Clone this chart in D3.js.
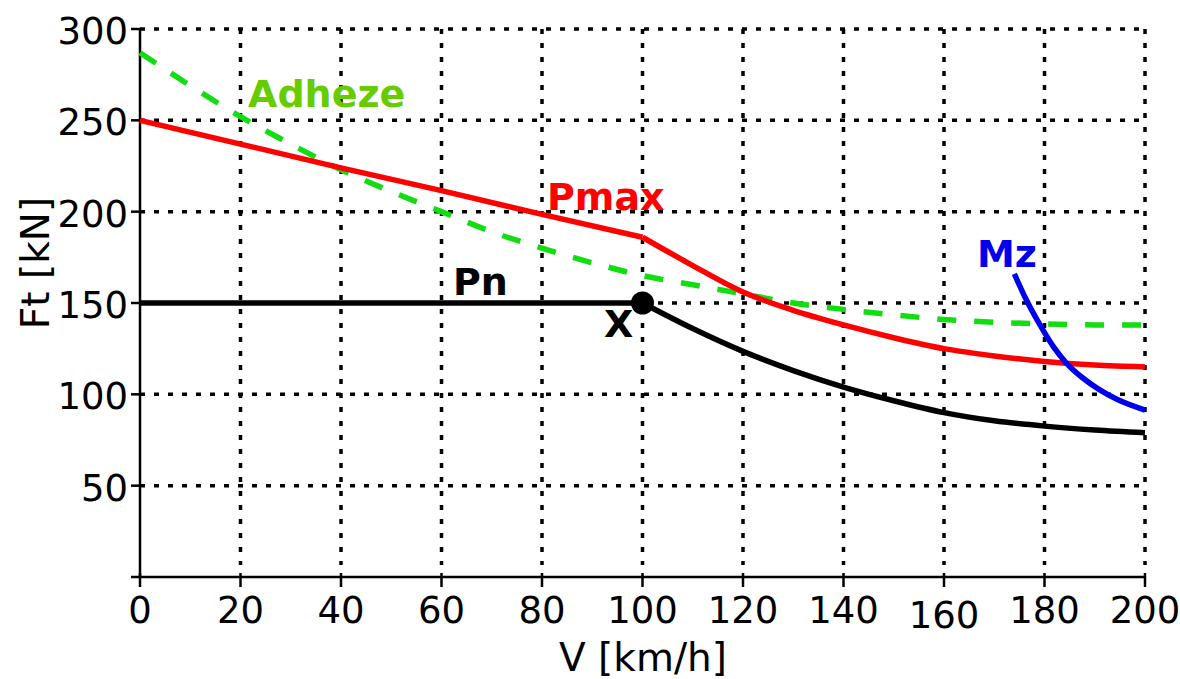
<!DOCTYPE html>
<html>
<head>
<meta charset="utf-8">
<script src="https://cdn.jsdelivr.net/npm/d3@7"></script>
<style>
  html, body { margin: 0; padding: 0; background: #fff; }
  svg { display: block; font-family: "DejaVu Sans", Verdana, sans-serif; }
</style>
</head>
<body>
<svg id="chart" width="1180" height="679"></svg>
<script>
// ---- data ----
const xTicks = [0, 20, 40, 60, 80, 100, 120, 140, 160, 180, 200];
const yTicks = [50, 100, 150, 200, 250, 300];

const adhezeV = [0, 10, 20, 30, 40, 50, 60, 70, 80, 90, 100, 110, 120, 130, 140, 150, 160, 170, 180, 190, 200];
const adhezeF = [287, 269, 252, 237, 223, 211, 200, 189, 180, 172, 165, 160, 155, 150, 146.5, 143.5, 141, 139.5, 138.5, 138, 138];

const pmaxV = [0, 20, 40, 60, 80, 100, 110, 120, 130, 140, 150, 160, 170, 180, 190, 200];
const pmaxF = [250, 237, 224, 211.5, 198.5, 186, 170.5, 156, 146, 138, 131, 125, 121, 118, 116, 115];

const pnV = [0, 20, 40, 60, 80, 100, 110, 120, 130, 140, 150, 160, 170, 180, 190, 200];
const pnF = [150, 150, 150, 150, 150, 150, 136, 123.5, 113, 104, 96.5, 90, 85.5, 82.6, 80.5, 79];

const mzV = [174, 176.4, 179.1, 181.8, 184.4, 187.7, 191, 194.4, 200];
const mzF = [166, 151.6, 138, 126, 117, 108.8, 102.4, 97.3, 91.4];

const pointX = { v: 100, f: 150 };

// ---- setup ----
const svg = d3.select("#chart");
const x = d3.scaleLinear().domain([0, 200]).range([140, 1145]);
const y = d3.scaleLinear().domain([0, 300]).range([577, 29]);

const zip = (vs, fs) => vs.map((v, i) => ({ v, f: fs[i] }));

// grid
const grid = svg.append("g");
grid.selectAll("line.h").data(yTicks).join("line")
  .attr("x1", x(0)).attr("x2", x(200))
  .attr("y1", d => y(d)).attr("y2", d => y(d))
  .attr("stroke", "#000").attr("stroke-width", 3.5)
  .attr("stroke-dasharray", "5,9");
grid.selectAll("line.v").data(xTicks.filter(d => d > 0)).join("line")
  .attr("x1", d => x(d)).attr("x2", d => x(d))
  .attr("y1", y(300)).attr("y2", y(0) - 12)
  .attr("stroke", "#000").attr("stroke-width", 3.5)
  .attr("stroke-dasharray", "5,9");

// axes
const ax = svg.append("g").attr("stroke", "#000").attr("stroke-width", 2.5);
ax.append("line").attr("x1", x(0)).attr("x2", x(0)).attr("y1", y(300)).attr("y2", y(0));
ax.append("line").attr("x1", x(0) - 9).attr("x2", x(200)).attr("y1", y(0)).attr("y2", y(0));
ax.selectAll("line.yt").data(yTicks).join("line")
  .attr("x1", x(0) - 9).attr("x2", x(0))
  .attr("y1", d => y(d)).attr("y2", d => y(d));
ax.selectAll("line.xt").data(xTicks).join("line")
  .attr("x1", d => x(d)).attr("x2", d => x(d))
  .attr("y1", y(0) - 4).attr("y2", y(0) + 10);

// tick labels
svg.append("g").selectAll("text").data(yTicks).join("text")
  .attr("x", x(0) - 12).attr("y", d => y(d) + 15)
  .attr("text-anchor", "end").attr("font-size", 37).attr("fill", "#000")
  .text(d => d);
svg.append("g").selectAll("text").data(xTicks).join("text")
  .attr("x", d => x(d)).attr("y", d => y(0) + 46 + (d === 160 ? 5 : 0))
  .attr("text-anchor", "middle").attr("font-size", 37).attr("fill", "#000")
  .text(d => d);

// axis titles
svg.append("text").attr("transform", "translate(49,263) rotate(-90)")
  .attr("text-anchor", "middle").attr("font-size", 39).attr("fill", "#000")
  .text("Ft [kN]");
svg.append("text").attr("x", 643).attr("y", 671)
  .attr("text-anchor", "middle").attr("font-size", 39).attr("fill", "#000")
  .text("V [km/h]");

// lines
const lineLin = d3.line().x(d => x(d.v)).y(d => y(d.f)).curve(d3.curveLinear);
const lineSmooth = d3.line().x(d => x(d.v)).y(d => y(d.f)).curve(d3.curveMonotoneX);

const adheze = zip(adhezeV, adhezeF);
svg.append("path").attr("d", lineSmooth(adheze))
  .attr("fill", "none").attr("stroke", "#11dd11").attr("stroke-width", 5.5)
  .attr("stroke-dasharray", "19,18");

function kinked(data, color) {
  const a = data.filter(d => d.v <= 100);
  const b = data.filter(d => d.v >= 100);
  svg.append("path").attr("d", lineLin(a))
    .attr("fill", "none").attr("stroke", color).attr("stroke-width", 5.5)
    .attr("stroke-linejoin", "round");
  svg.append("path").attr("d", lineSmooth(b))
    .attr("fill", "none").attr("stroke", color).attr("stroke-width", 5.5)
    .attr("stroke-linejoin", "round");
}
kinked(zip(pmaxV, pmaxF), "#ff0000");
kinked(zip(pnV, pnF), "#000000");

svg.append("path").attr("d", lineSmooth(zip(mzV, mzF)))
  .attr("fill", "none").attr("stroke", "#0000ee").attr("stroke-width", 5.5);

svg.append("circle").attr("cx", x(pointX.v)).attr("cy", y(pointX.f)).attr("r", 11.5).attr("fill", "#000");

// labels
const lab = (t, xx, yy, c) => svg.append("text").attr("x", xx).attr("y", yy)
  .attr("font-size", 38).attr("font-weight", "bold").attr("fill", c).text(t);
lab("Adheze", 248, 107, "#66cc00");
lab("Pmax", 547, 210, "#ff0000");
lab("Pn", 453, 295, "#000000");
lab("X", 604, 337, "#000000");
lab("Mz", 977, 267, "#0000ee");
</script>
</body>
</html>
